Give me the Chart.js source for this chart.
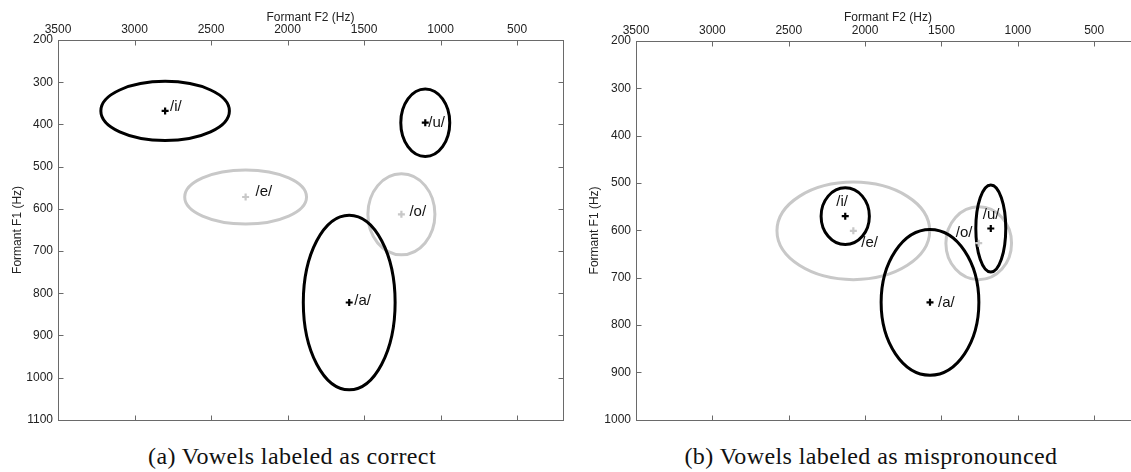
<!DOCTYPE html>
<html lang="en">
<head>
<meta charset="UTF-8">
<title>Vowel formant ellipses</title>
<script src="https://cdn.jsdelivr.net/npm/chart.js"></script>
<style>
	body { margin: 0; width: 1131px; height: 472px; overflow: hidden; background: #fff; position: relative; }
	.panel { position: absolute; top: 0; }
	.caption { position: absolute; top: 443px; font-family: "Liberation Serif", serif; font-size: 24px; letter-spacing: 0.4px; color: #111;
		white-space: nowrap; transform: translateX(-50%); }
</style>
</head>
<body>
	<div class="panel" style="left:0"><canvas id="chartA" width="570" height="432"></canvas></div>
	<div class="panel" style="left:570px"><canvas id="chartB" width="580" height="432"></canvas></div>
	<div class="caption" style="left:292px">(a) Vowels labeled as correct</div>
	<div class="caption" style="left:871px">(b) Vowels labeled as mispronounced</div>

<script>
// tick labels
const xTicks = [3500, 3000, 2500, 2000, 1500, 1000, 500];
const yTicksA = [200, 300, 400, 500, 600, 700, 800, 900, 1000, 1100];
const yTicksB = [200, 300, 400, 500, 600, 700, 800, 900, 1000];

// vowels (same order in both panels)
const vowels = ['/i/', '/e/', '/a/', '/o/', '/u/'];

// (a) labeled as correct: mean F2, mean F1, ellipse half-widths
const f2A = [2800, 2274, 1597, 1256, 1100];
const f1A = [368, 572, 822, 613, 396];
const f2SpreadA = [420, 398, 300, 219, 160];
const f1SpreadA = [70, 64, 207, 96, 80];

// (b) labeled as mispronounced
const f2B = [2130, 2077, 1575, 1256, 1177];
const f1B = [570, 601, 752, 627, 596];
const f2SpreadB = [158, 500, 320, 215, 98];
const f1SpreadB = [60, 103, 154, 77, 92];

const DARK = '#000000';
const LIGHT = '#c8c8c8';
const vowelColors = [DARK, LIGHT, DARK, LIGHT, DARK];
const FONT = '"Liberation Sans", Arial, sans-serif';

const vowelPlugin = {
	id: 'vowelPlot',
	beforeDatasetsDraw(chart, args, opts) {
		const ctx = chart.ctx, xs = chart.scales.x, ys = chart.scales.y, area = chart.chartArea;
		ctx.save();
		ctx.beginPath();
		ctx.rect(area.left, area.top, area.right - area.left, area.bottom - area.top);
		ctx.clip();
		// light ones first so the black ones stay on top
		const order = [1, 3, 0, 2, 4];
		order.forEach(i => {
			const cx = xs.getPixelForValue(opts.f2[i]);
			const cy = ys.getPixelForValue(opts.f1[i]);
			const rx = Math.abs(xs.getPixelForValue(opts.f2[i] + opts.f2Spread[i]) - cx);
			const ry = Math.abs(ys.getPixelForValue(opts.f1[i] + opts.f1Spread[i]) - cy);
			ctx.beginPath();
			ctx.ellipse(cx, cy, rx, ry, 0, 0, Math.PI * 2);
			ctx.strokeStyle = vowelColors[i];
			ctx.lineWidth = 3;
			ctx.stroke();
		});
		ctx.restore();
	},
	afterDatasetsDraw(chart, args, opts) {
		const ctx = chart.ctx, xs = chart.scales.x, ys = chart.scales.y, area = chart.chartArea;
		ctx.save();
		// vowel labels
		ctx.font = '15px ' + FONT;
		ctx.fillStyle = '#111';
		ctx.textAlign = 'left';
		ctx.textBaseline = 'middle';
		vowels.forEach((v, i) => {
			const px = xs.getPixelForValue(opts.f2[i]);
			const py = ys.getPixelForValue(opts.f1[i]);
			ctx.fillText(v, px + opts.labelOffsets[i][0], py + opts.labelOffsets[i][1]);
		});
		// box and inward ticks
		const l = Math.round(area.left) + 0.5, r = Math.round(area.right) + 0.5;
		const t = Math.round(area.top) + 0.5, b = Math.round(area.bottom) + 0.5;
		ctx.strokeStyle = '#6a6a6a';
		ctx.lineWidth = 1;
		ctx.strokeRect(l, t, r - l, b - t);
		ctx.beginPath();
		xs.ticks.forEach(tk => {
			const px = Math.round(xs.getPixelForValue(tk.value)) + 0.5;
			ctx.moveTo(px, t); ctx.lineTo(px, t + 5);
			ctx.moveTo(px, b); ctx.lineTo(px, b - 5);
		});
		ys.ticks.forEach(tk => {
			const py = Math.round(ys.getPixelForValue(tk.value)) + 0.5;
			ctx.moveTo(l, py); ctx.lineTo(l + 5, py);
			ctx.moveTo(r, py); ctx.lineTo(r - 5, py);
		});
		ctx.stroke();
		ctx.restore();
	}
};

function criarGrafico(id, f2, f1, f2Spread, f1Spread, yTicks, yMax, axisW, axisH, pad, yTitlePad, labelOffsets) {
	const ctx = document.getElementById(id).getContext('2d');
	return new Chart(ctx, {
		type: 'scatter',
		data: {
			datasets: [{
				data: f2.map((v, i) => ({ x: v, y: f1[i] })),
				pointStyle: 'cross',
				pointRadius: 3.5,
				pointBorderWidth: 2.2,
				pointBorderColor: vowelColors,
				pointBackgroundColor: vowelColors
			}]
		},
		options: {
			responsive: false,
			animation: false,
			layout: { padding: pad },
			plugins: {
				legend: { display: false },
				tooltip: { enabled: false },
				vowelPlot: { f2: f2, f1: f1, f2Spread: f2Spread, f1Spread: f1Spread, labelOffsets: labelOffsets }
			},
			scales: {
				x: {
					type: 'linear', position: 'top', reverse: true, min: 200, max: 3500,
					afterBuildTicks: s => { s.ticks = xTicks.map(v => ({ value: v })); },
					afterFit: s => { s.height = axisH; },
					grid: { display: false, drawTicks: false },
					border: { display: false },
					ticks: { color: '#222', font: { family: FONT, size: 12 }, padding: 3, maxRotation: 0, autoSkip: false,
						callback: v => String(v) },
					title: { display: true, text: 'Formant F2 (Hz)', color: '#222', font: { family: FONT, size: 12 }, padding: { top: 10, bottom: 0 } }
				},
				y: {
					type: 'linear', position: 'left', reverse: true, min: 200, max: yMax,
					afterBuildTicks: s => { s.ticks = yTicks.map(v => ({ value: v })); },
					afterFit: s => { s.width = axisW; },
					grid: { display: false, drawTicks: false },
					border: { display: false },
					ticks: { color: '#222', font: { family: FONT, size: 12 }, padding: 5, autoSkip: false,
						callback: v => String(v) },
					title: { display: true, text: 'Formant F1 (Hz)', color: '#222', font: { family: FONT, size: 12 }, padding: { top: yTitlePad, bottom: 0 } }
				}
			}
		},
		plugins: [vowelPlugin]
	});
}

criarGrafico('chartA', f2A, f1A, f2SpreadA, f1SpreadA, yTicksA, 1100, 58, 40,
	{ top: 0, left: 0, right: 7, bottom: 9.3 }, 10,
	[[5, -4], [10, -5], [5, -2], [8, -2], [3, 0]]);

criarGrafico('chartB', f2B, f1B, f2SpreadB, f1SpreadB, yTicksB, 1000, 66, 41,
	{ top: 0, left: 0, right: 10, bottom: 8.7 }, 17,
	[[-9, -14], [8, 12], [8, 0], [-23, -10], [-8, -14]]);
</script>
</body>
</html>
